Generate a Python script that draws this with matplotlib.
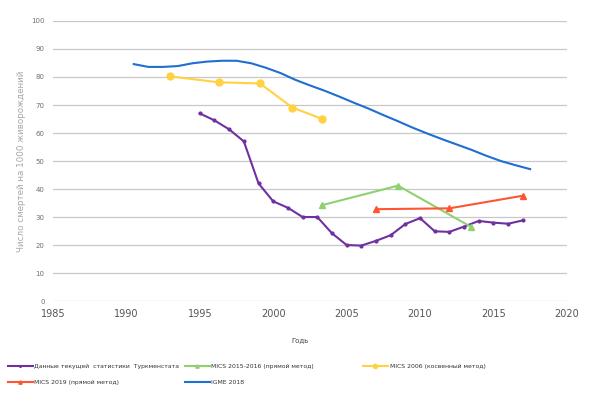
import numpy as np
import matplotlib.pyplot as plt

# data
stat_years = [1995, 1996, 1997, 1998, 1999, 2000, 2001, 2002, 2003, 2004, 2005, 2006,
              2007, 2008, 2009, 2010, 2011, 2012, 2013, 2014, 2015, 2016, 2017]
stat_vals = [67, 64.5, 61.3, 57, 42, 35.6, 33.3, 30, 30, 24.2, 20, 19.8,
             21.5, 23.5, 27.5, 29.6, 24.9, 24.7, 26.6, 28.6, 28, 27.6, 28.8]

mics15_years = [2003.3, 2008.5, 2013.5]
mics15_vals = [34.2, 41.2, 26.4]

mics06_years = [1993, 1996.3, 1999.1, 2001.3, 2003.3]
mics06_vals = [80.2, 78.1, 77.7, 69.1, 65.1]

mics19_years = [2007, 2012, 2017]
mics19_vals = [32.8, 33.1, 37.6]

igme_years = [1990.5, 1991.5, 1992.5, 1993.5, 1994.5, 1995.5, 1996.5, 1997.5, 1998.5,
              1999.5, 2000.5, 2001.5, 2002.5, 2003.5, 2004.5, 2005.5, 2006.5, 2007.5,
              2008.5, 2009.5, 2010.5, 2011.5, 2012.5, 2013.5, 2014.5, 2015.5, 2016.5, 2017.5]
igme_vals = [84.6, 83.6, 83.6, 83.9, 84.9, 85.5, 85.8, 85.8, 84.9, 83.3, 81.4, 79.0,
             77.0, 75.1, 73.0, 70.8, 68.7, 66.4, 64.2, 61.9, 59.8, 57.8, 55.9, 54.0,
             51.9, 50.0, 48.5, 47.1]

fig = plt.figure(figsize=(5.9, 3.93), dpi=100)
ax = fig.add_axes([0.0898, 0.234, 0.871, 0.7126])

p1, = ax.plot(stat_years, stat_vals, color='#7030a0', lw=1.5, marker='o', ms=2,
              label='Данные текущей  статистики  Туркменстата')
p2, = ax.plot(mics15_years, mics15_vals, color='#8fd070', lw=1.5, marker='^', ms=4,
              label='MICS 2015-2016 (прямой метод)')
p3, = ax.plot(mics06_years, mics06_vals, color='#ffd243', lw=1.5, marker='o', ms=5,
              label='MICS 2006 (косвенный метод)')
p4, = ax.plot(mics19_years, mics19_vals, color='#ff5533', lw=1.5, marker='^', ms=4,
              label='MICS 2019 (прямой метод)')
p5, = ax.plot(igme_years, igme_vals, color='#1f6fd2', lw=1.5,
              label='IGME 2018')

ax.set_xlim(1985, 2020)
ax.set_ylim(0, 100)
ax.set_xticks(np.arange(1985, 2021, 5))
ax.set_yticks(np.arange(0, 101, 10))
ax.grid(axis='y', color='#c8c8c8', lw=0.9)
ax.set_axisbelow(True)
for s in ax.spines.values():
    s.set_visible(False)
ax.tick_params(length=0)
ax.tick_params(axis='y', labelsize=5, labelcolor='#707070', pad=6)
ax.tick_params(axis='x', labelsize=7, labelcolor='#555555', pad=6)

ax.set_ylabel('Число смертей на 1000 живорождений', fontsize=6.3, color='#a8a8a8', labelpad=4)
fig.text(0.508, 0.135, 'Годь', fontsize=5, color='#444444', ha='center', va='center')

leg_kw = dict(loc='upper left', frameon=False, fontsize=4.4, handlelength=4.1,
              handletextpad=0.25, labelspacing=1.7, borderpad=0, labelcolor='#333333',
              markerscale=0.6)
fig.legend(handles=[p1, p4], bbox_to_anchor=(0.008, 0.082), **leg_kw)
fig.legend(handles=[p2, p5], bbox_to_anchor=(0.308, 0.082), **leg_kw)
fig.legend(handles=[p3], bbox_to_anchor=(0.61, 0.082), **leg_kw)

fig.savefig('out.png', dpi=100)
